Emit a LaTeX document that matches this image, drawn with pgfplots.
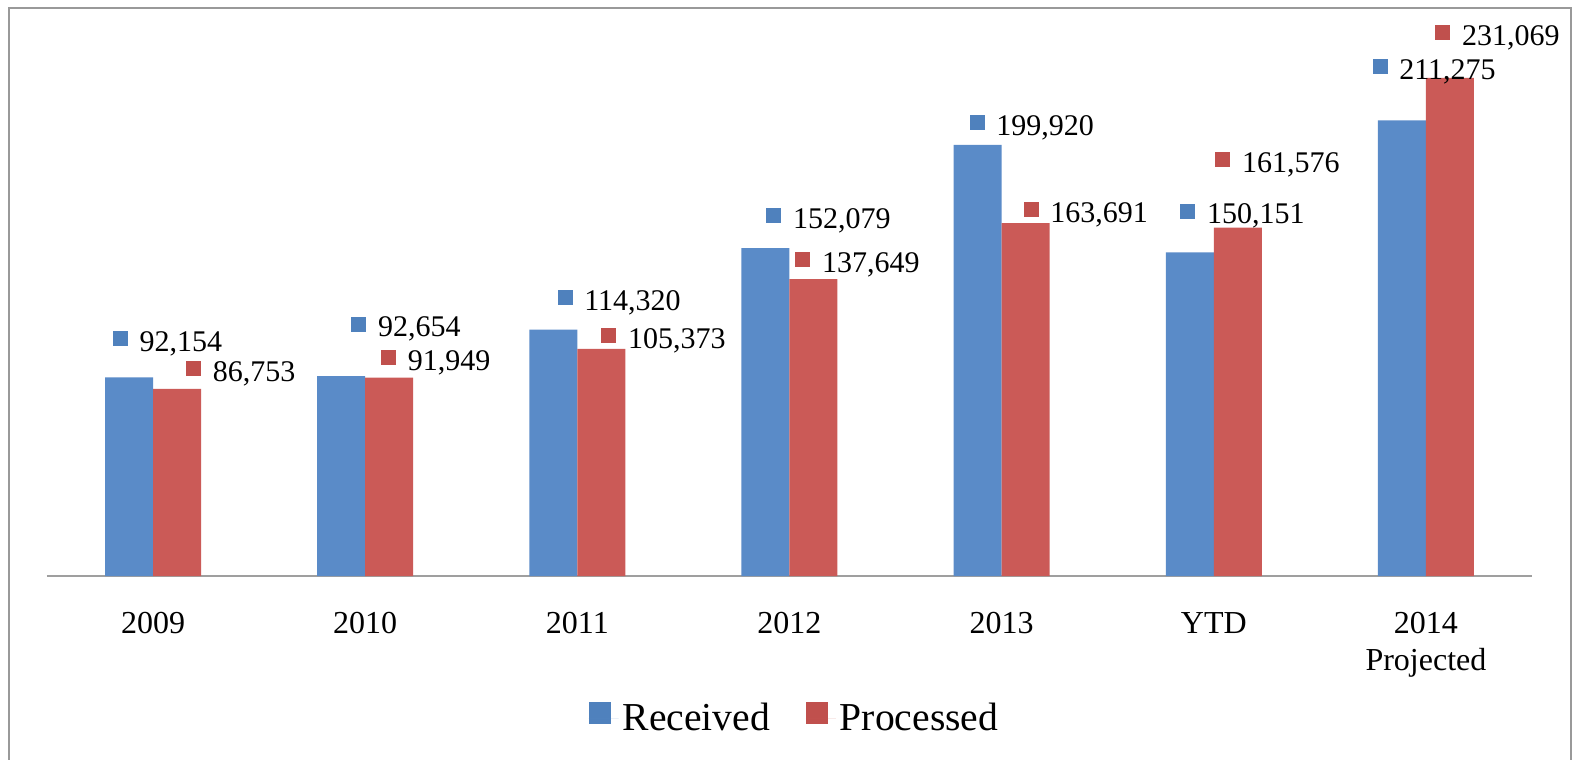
\documentclass[border=0pt]{standalone}
\usepackage{fontspec}
\setmainfont{Liberation Serif}
\usepackage{pgfplots}
\usepackage{pgfplotstable}
\pgfplotsset{compat=1.18}

\definecolor{recvbar}{HTML}{5A8BC8}
\definecolor{procbar}{HTML}{CB5A57}
\definecolor{recvkey}{HTML}{4F81BD}
\definecolor{prockey}{HTML}{C0504D}

% x = category index, v = value, lx/ly = where the label sits
\pgfplotstableread{
x v lx ly
0 92154 -0.1903 104262
1 92654 0.9330 110895
2 114320 1.9055 123278
3 152079 2.8893 161217
4 199920 3.8476 204443
5 150151 4.8408 163304
6 211275 5.7473 230416
}\received

\pgfplotstableread{
x v lx ly
0 86753 0.1552 90348
1 91949 1.0744 95450
2 105373 2.1115 105654
3 137649 3.0260 140902
4 163691 4.1022 164092
5 161576 5.0058 187282
6 231069 6.0429 246185
}\processed

\begin{document}
\begin{tikzpicture}
\useasboundingbox (-23.5pt,-92pt) rectangle (763.5pt,288pt);
\begin{axis}[
  scale only axis,
  width=742.5pt, height=280.3pt,
  xmin=-0.5, xmax=6.5,
  ymin=0, ymax=260000,
  axis x line=bottom, axis y line=none,
  axis line style={draw=gray!75, line width=1pt, -},
  ytick=\empty,
  xtick={0,...,6},
  xticklabels={2009,2010,2011,2012,2013,YTD,{2014\\Projected}},
  major tick length=0pt,
  xticklabel style={font=\fontsize{16}{18.5}\selectfont, align=center,
    inner sep=0pt, anchor=north, yshift=-18pt},
  clip=false,
  /pgf/number format/assume math mode=true,
  legend style={at={(0.504,-0.2536)}, anchor=center, draw=none,
    font=\fontsize{19.8}{22}\selectfont, legend columns=2,
    /tikz/every even column/.append style={column sep=16pt}},
]
\addplot[ybar, bar width=24pt, bar shift=-12pt, fill=recvbar, draw=none,
  area legend, legend image code/.code={\fill[recvkey] (0pt,-3pt) rectangle (11pt,8pt); \path (0pt,0pt) -- (15pt,0pt);}]
  table[x=x, y=v] {\received};
\addlegendentry{Received}
\addplot[ybar, bar width=24pt, bar shift=12pt, fill=procbar, draw=none,
  area legend, legend image code/.code={\fill[prockey] (0pt,-3pt) rectangle (11pt,8pt); \path (0pt,0pt) -- (15pt,0pt);}]
  table[x=x, y=v] {\processed};
\addlegendentry{Processed}

\addplot[draw=none, forget plot, point meta=explicit,
  nodes near coords={\textcolor{recvkey}{\rule[2.5pt]{7.5pt}{7.5pt}}\hspace{5.8pt}\pgfmathprintnumber[fixed, precision=0, 1000 sep={,}]{\pgfplotspointmeta}},
  nodes near coords style={anchor=base west, inner sep=0pt, font=\fontsize{15}{18}\selectfont}]
  table[x=lx, y=ly, meta=v] {\received};
\addplot[draw=none, forget plot, point meta=explicit,
  nodes near coords={\textcolor{prockey}{\rule[2.5pt]{7.5pt}{7.5pt}}\hspace{5.8pt}\pgfmathprintnumber[fixed, precision=0, 1000 sep={,}]{\pgfplotspointmeta}},
  nodes near coords style={anchor=base west, inner sep=0pt, font=\fontsize{15}{18}\selectfont}]
  table[x=lx, y=ly, meta=v] {\processed};
\end{axis}
\draw[gray!80, line width=1pt] (-19pt,-120pt) rectangle (762pt,284pt);
\end{tikzpicture}
\end{document}
